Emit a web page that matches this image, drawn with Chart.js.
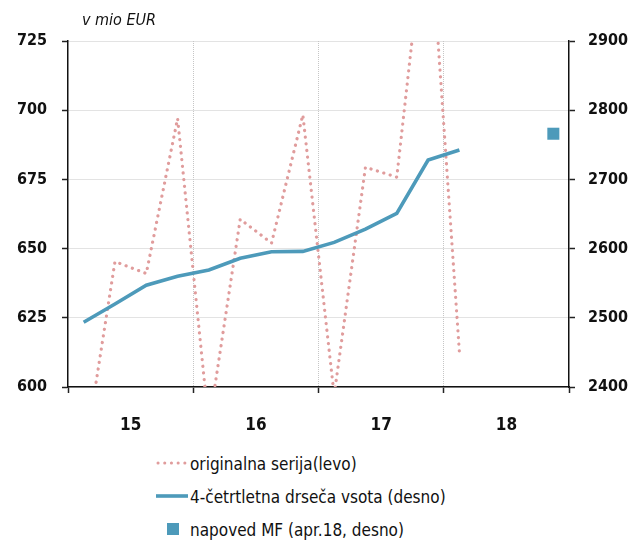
<!DOCTYPE html>
<html>
<head>
<meta charset="utf-8">
<script src="https://cdn.jsdelivr.net/npm/chart.js@4/dist/chart.umd.min.js"></script>
<style>
  html, body { margin: 0; padding: 0; background: #fff; }
  #wrap { position: relative; width: 628px; height: 546px; font-family: "DejaVu Sans Condensed", "Liberation Sans Narrow", sans-serif; color: #111; }
  #title { position: absolute; left: 82px; top: 10px; font-style: italic; font-size: 16px; }
  #chartBox { position: absolute; left: 0; top: 0; width: 628px; height: 440px; }
  #legend { position: absolute; left: 156px; top: 450px; font-size: 17px; }
  .item { position: absolute; left: 0; height: 24px; width: 320px; }
  .item svg { position: absolute; left: 0; top: 0; }
  .item span { position: absolute; left: 34px; top: 4px; white-space: nowrap; }
</style>
</head>
<body>
<div id="wrap">
  <div id="chartBox"><canvas id="c"></canvas></div>
  <div id="title">v mio EUR</div>
  <div id="legend"></div>
</div>
<script>
// ---- data ----
const yearLabels = ['15', '16', '17', '18'];
const quarters = ['15Q1','15Q2','15Q3','15Q4','16Q1','16Q2','16Q3','16Q4','17Q1','17Q2','17Q3','17Q4','18Q1','18Q2','18Q3','18Q4'];
const originalSeries = [573, 645.3, 641, 697, 586, 660.6, 652, 698.3, 597, 679.4, 675.8, 777, 612.5];
const movingSum = [2493.5, 2520, 2547, 2560, 2569, 2586, 2595.5, 2596, 2609, 2628, 2651, 2728, 2742.5];
const forecastQuarter = '18Q4';
const forecastValue = [2766];
const leftTicks = [600, 625, 650, 675, 700, 725];
const rightTicks = [2400, 2500, 2600, 2700, 2800, 2900];
const seriesNames = ['originalna serija(levo)', '4-četrtletna drseča vsota (desno)', 'napoved MF (apr.18, desno)'];

const pink = '#e09c9c';
const blue = '#4d9aba';
const gridGray = '#c6c6c6';
const fontFam = '"DejaVu Sans Condensed", "Liberation Sans Narrow", sans-serif';

const qx = q => quarters.indexOf(q) + 0.5;
const toPts = arr => arr.map((v, i) => ({ x: qx(quarters[i]), y: v }));

const chart = new Chart(document.getElementById('c'), {
  type: 'line',
  data: {
    datasets: [
      {
        label: seriesNames[0],
        data: toPts(originalSeries),
        yAxisID: 'yL',
        borderColor: pink,
        borderWidth: 3.2,
        borderDash: [0.1, 6.6],
        borderCapStyle: 'round',
        pointRadius: 0,
        tension: 0,
        order: 2
      },
      {
        label: seriesNames[1],
        data: toPts(movingSum),
        yAxisID: 'yR',
        borderColor: blue,
        borderWidth: 3.6,
        pointRadius: 0,
        tension: 0,
        order: 1
      },
      {
        label: seriesNames[2],
        data: forecastValue.map(v => ({ x: qx(forecastQuarter), y: v })),
        yAxisID: 'yR',
        showLine: false,
        pointStyle: 'rect',
        pointRadius: 8.5,
        pointBorderWidth: 0,
        backgroundColor: blue,
        borderColor: blue,
        order: 0
      }
    ]
  },
  options: {
    responsive: true,
    maintainAspectRatio: false,
    animation: false,
    layout: { padding: { top: 41, left: 0, right: 0, bottom: 0 } },
    plugins: { legend: { display: false }, tooltip: { enabled: false } },
    scales: {
      x: {
        type: 'linear',
        min: 0,
        max: quarters.length,
        afterBuildTicks: s => {
          const t = [];
          for (let v = 0; v <= quarters.length; v += 2) t.push({ value: v });
          s.ticks = t;
        },
        afterFit: s => { s.height = 53; },
        ticks: {
          autoSkip: false,
          maxRotation: 0,
          padding: 22,
          color: '#111',
          font: { family: fontFam, size: 17, weight: 'bold' },
          callback: v => (v % 4 === 2 ? yearLabels[(v - 2) / 4] : '')
        },
        grid: {
          color: c => (c.tick && c.tick.value % 4 === 0 && c.tick.value > 0 && c.tick.value < quarters.length ? gridGray : 'rgba(0,0,0,0)'),
          lineWidth: 1,
          tickLength: 6,
          tickColor: c => (c.tick && c.tick.value % 4 === 0 ? '#222' : 'rgba(0,0,0,0)'),
          tickWidth: 1.5
        },
        border: { display: true, color: '#111', width: 1.5, dash: [1, 1] }
      },
      yL: {
        type: 'linear',
        position: 'left',
        min: leftTicks[0],
        max: leftTicks[leftTicks.length - 1],
        afterBuildTicks: s => { s.ticks = leftTicks.map(v => ({ value: v })); },
        afterFit: s => { s.width = 68; },
        ticks: {
          padding: 15,
          color: '#111',
          font: { family: fontFam, size: 16, weight: 'bold' },
          callback: v => String(v)
        },
        grid: {
          color: gridGray,
          lineWidth: 1,
          tickLength: 6,
          tickColor: '#222',
          tickWidth: 1.5
        },
        border: { display: true, color: '#111', width: 1.5, dash: [1, 1] }
      },
      yR: {
        type: 'linear',
        position: 'right',
        min: rightTicks[0],
        max: rightTicks[rightTicks.length - 1],
        afterBuildTicks: s => { s.ticks = rightTicks.map(v => ({ value: v })); },
        afterFit: s => { s.width = 59; },
        ticks: {
          padding: 13,
          color: '#111',
          font: { family: fontFam, size: 16, weight: 'bold' },
          callback: v => String(v)
        },
        grid: {
          drawOnChartArea: false,
          tickLength: 6,
          tickColor: '#222',
          tickWidth: 1.5
        },
        border: { display: true, color: '#111', width: 1.5 }
      }
    }
  }
});

// ---- HTML legend built from the datasets ----
const legend = document.getElementById('legend');
chart.data.datasets.forEach((ds, i) => {
  const row = document.createElement('div');
  row.className = 'item';
  row.style.top = (i * 33) + 'px';
  let marker;
  if (i === 0) {
    marker = '<svg width="32" height="24"><line x1="2" y1="13" x2="30" y2="13" stroke="' + ds.borderColor + '" stroke-width="3" stroke-dasharray="0.1 6.6" stroke-linecap="round"/></svg>';
  } else if (i === 1) {
    marker = '<svg width="32" height="24"><line x1="0" y1="13" x2="32" y2="13" stroke="' + ds.borderColor + '" stroke-width="3.6"/></svg>';
  } else {
    marker = '<svg width="32" height="24"><rect x="11" y="7" width="12" height="12" fill="' + ds.backgroundColor + '"/></svg>';
  }
  row.innerHTML = marker + '<span>' + ds.label + '</span>';
  legend.appendChild(row);
});
</script>
</body>
</html>
